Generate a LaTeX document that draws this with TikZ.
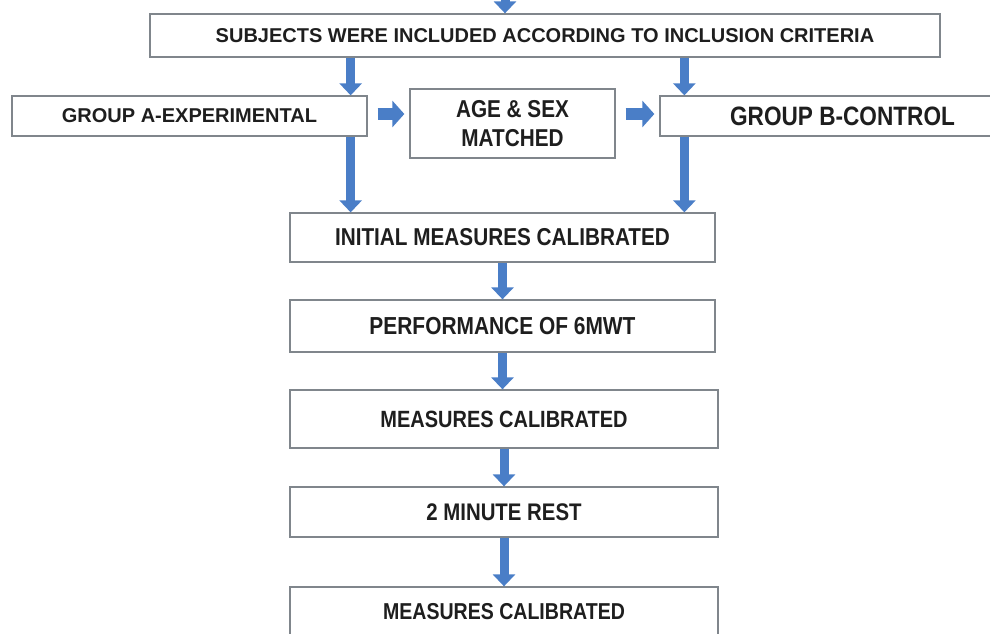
\documentclass[tikz,border=0pt]{standalone}
\usepackage{fontspec}
\setmainfont{Liberation Sans}
\newfontfamily\narrowsans{Liberation Sans}[FakeStretch=0.85]
\usepackage{xcolor}
\usepackage{tikz}
\usetikzlibrary{arrows.meta}
\definecolor{arrowblue}{RGB}{74,126,199}
\definecolor{boxline}{RGB}{128,134,140}
\definecolor{boxtext}{RGB}{30,30,30}

\begin{document}
\begin{tikzpicture}[x=1pt, y=-1pt,
    box/.style={draw=boxline, line width=1.3pt, fill=white, inner sep=0pt, text=boxtext},
    downarrow/.style={draw=arrowblue, line width=9pt, -{Triangle[width=22pt, length=12pt]}},
    sidearrow/.style={draw=arrowblue, line width=12pt, -{Triangle[width=26pt, length=12pt]}}]
            \useasboundingbox (0, 0) rectangle (990, 634);
            \coordinate (top) at (505, -4);
            \node (subjects) at (545, 35.5) [box, minimum width=790pt, minimum height=43pt, font=\bfseries\fontsize{20}{24}\selectfont] {SUBJECTS WERE INCLUDED ACCORDING TO INCLUSION CRITERIA};
            \node (groupa) at (189.5, 116) [box, minimum width=355pt, minimum height=40pt, font=\bfseries\fontsize{20}{24}\selectfont] {GROUP A-EXPERIMENTAL};
            \node (agesex) at (512.5, 123.5) [box, minimum width=205pt, minimum height=69pt, align=center, font=\narrowsans\bfseries\fontsize{24.4}{29}\selectfont] {AGE \& SEX\\ MATCHED};
            \node (groupb) at (842.5, 116) [box, minimum width=365pt, minimum height=40pt, font=\narrowsans\bfseries\fontsize{26.6}{30}\selectfont] {GROUP B-CONTROL};
            \node (initial) at (502.5, 237.5) [box, minimum width=425pt, minimum height=49pt, font=\narrowsans\bfseries\fontsize{24.4}{28}\selectfont] {INITIAL MEASURES CALIBRATED};
            \node (perform) at (502.5, 326) [box, minimum width=425pt, minimum height=52pt, font=\narrowsans\bfseries\fontsize{24.6}{28}\selectfont] {PERFORMANCE OF 6MWT};
            \node (measures1) at (504, 419) [box, minimum width=428pt, minimum height=58pt, font=\narrowsans\bfseries\fontsize{23.5}{28}\selectfont] {MEASURES CALIBRATED};
            \node (rest) at (504, 512) [box, minimum width=428pt, minimum height=50pt, font=\narrowsans\bfseries\fontsize{24}{28}\selectfont] {2 MINUTE REST};
            \node (measures2) at (504, 612) [box, minimum width=428pt, minimum height=50pt, font=\narrowsans\bfseries\fontsize{23}{28}\selectfont] {MEASURES CALIBRATED};
            \draw [downarrow] (top) -- (top |- subjects.north);
            \draw [downarrow] ([xshift=-17pt]groupa.east |- subjects.south) -- ([xshift=-17pt]groupa.north east);
            \draw [downarrow] ([xshift=25pt]groupb.west |- subjects.south) -- ([xshift=25pt]groupb.north west);
            \draw [sidearrow] ([xshift=10pt, yshift=2pt]groupa.east) -- ([xshift=-5pt, yshift=2pt]agesex.west |- groupa.east);
            \draw [sidearrow] ([xshift=10pt, yshift=2pt]agesex.east |- groupb.west) -- ([xshift=-5pt, yshift=2pt]groupb.west);
            \draw [downarrow] ([xshift=-17pt]groupa.south east) -- ([xshift=-17pt]groupa.east |- initial.north);
            \draw [downarrow] ([xshift=25pt]groupb.south west) -- ([xshift=25pt]groupb.west |- initial.north);
            \draw [downarrow] (initial.south) -- (perform.north);
            \draw [downarrow] (perform.south) -- (perform.south |- measures1.north);
            \draw [downarrow] (measures1.south) -- (rest.north);
            \draw [downarrow] (rest.south) -- (measures2.north);
        \end{tikzpicture}
\end{document}
